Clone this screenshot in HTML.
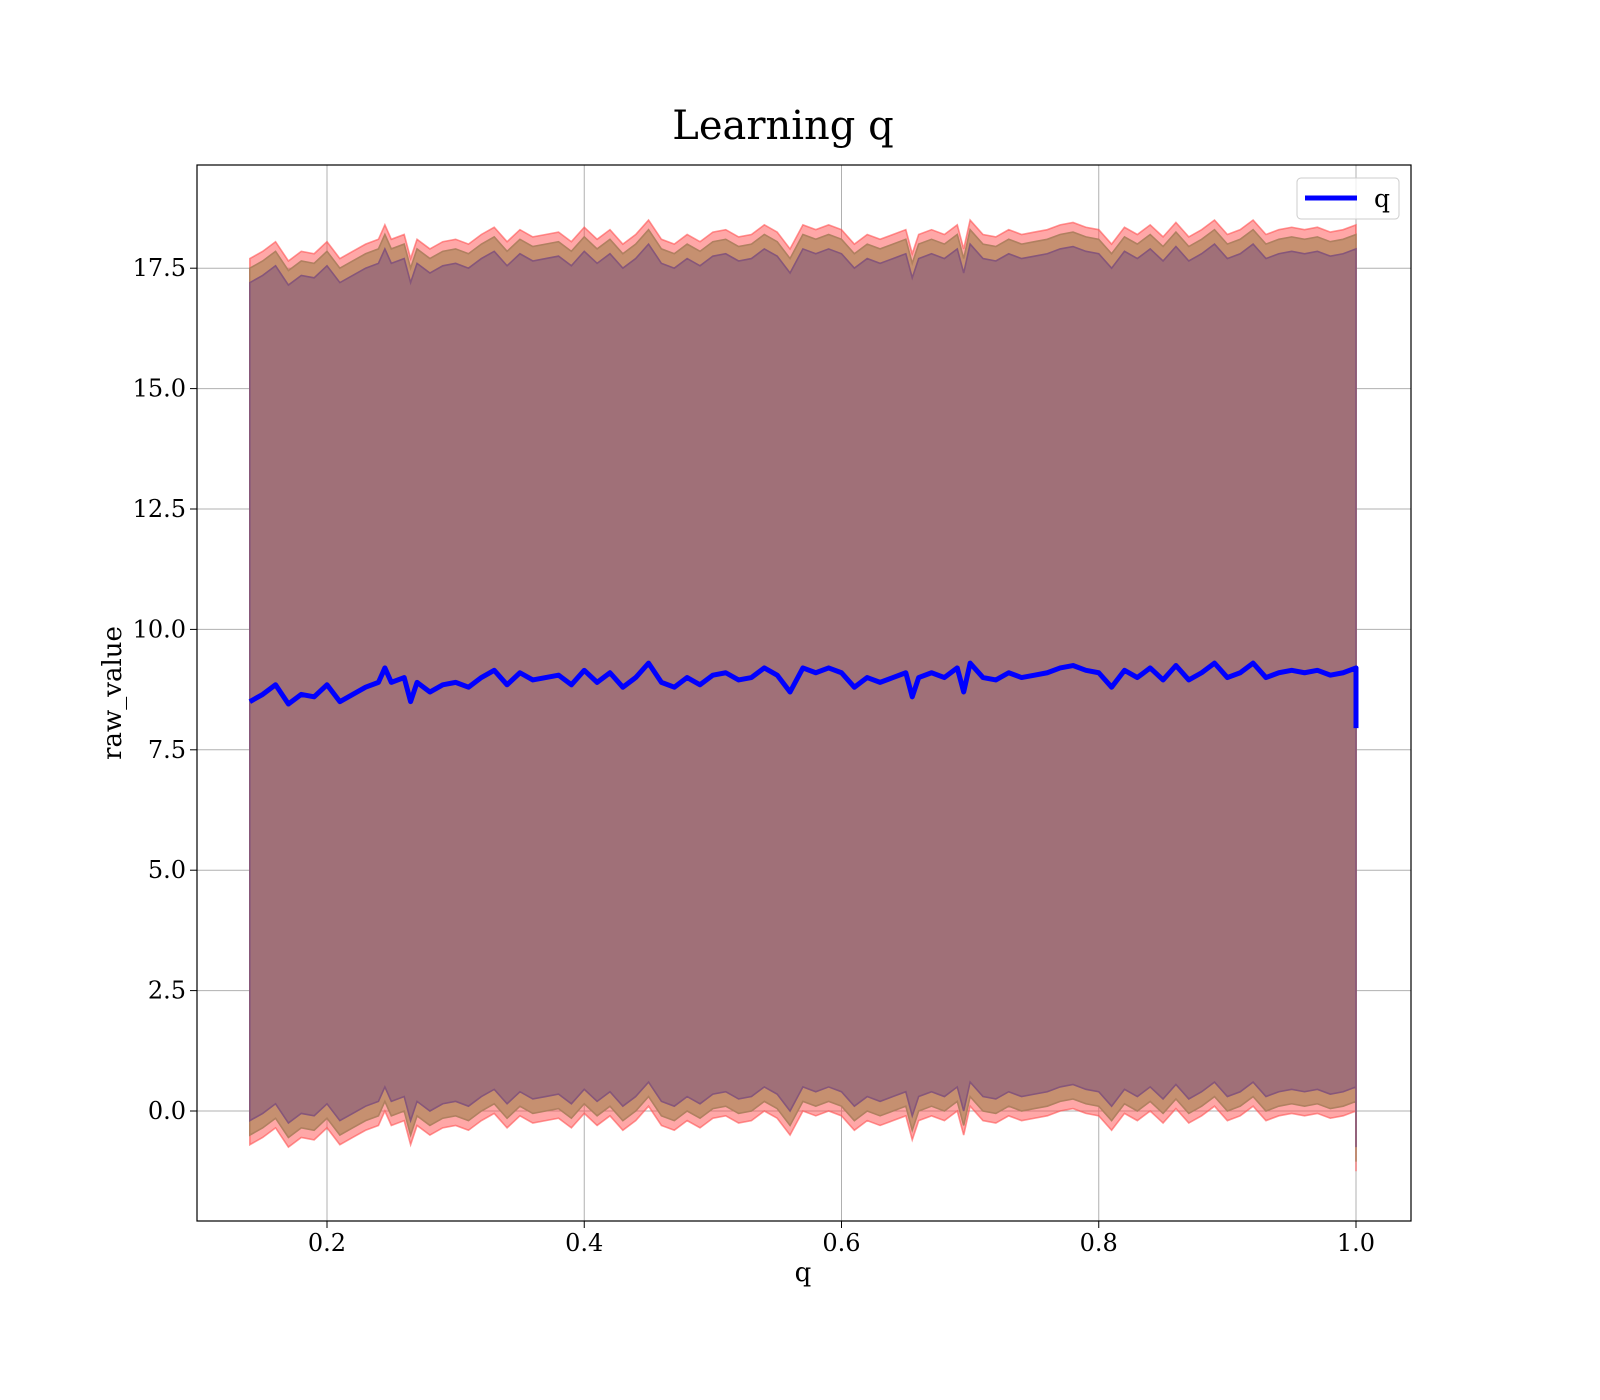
<!DOCTYPE html>
<html><head><meta charset="utf-8"><style>
body{margin:0;background:#fff}
svg{display:block}
text{font-family:"DejaVu Serif","Liberation Serif",serif;fill:#000}
</style></head><body>
<svg id="chart" width="1600" height="1400">
<text x="783" y="139" font-size="40" text-anchor="middle">Learning q</text>
<g id="grid"></g>
<g id="bands"></g>
<g id="lines"></g>
<rect x="197" y="165" width="1214" height="1056" fill="none" stroke="#000" stroke-width="1.2"/>
<g id="ticks"></g>
<text x="803" y="1281" font-size="26" text-anchor="middle">q</text>
<text transform="translate(121,693) rotate(-90)" font-size="26" text-anchor="middle">raw_value</text>
<g>
<rect x="1297" y="178" width="102" height="41" rx="4" fill="#fff" fill-opacity="0.8" stroke="#ccc"/>
<line x1="1305" y1="198" x2="1357" y2="198" stroke="#0000ff" stroke-width="5"/>
<text x="1374" y="207" font-size="25">q</text>
</g>
</svg>
<script>
const xs=[0.14,0.15,0.16,0.17,0.18,0.19,0.20,0.21,0.22,0.23,0.24,0.245,0.25,0.26,0.265,0.27,0.28,0.29,0.30,0.31,0.32,0.33,0.34,0.35,0.36,0.37,0.38,0.39,0.40,0.41,0.42,0.43,0.44,0.45,0.46,0.47,0.48,0.49,0.50,0.51,0.52,0.53,0.54,0.55,0.56,0.57,0.58,0.59,0.60,0.61,0.62,0.63,0.64,0.65,0.655,0.66,0.67,0.68,0.69,0.695,0.70,0.71,0.72,0.73,0.74,0.75,0.76,0.77,0.78,0.79,0.80,0.81,0.82,0.83,0.84,0.85,0.86,0.87,0.88,0.89,0.90,0.91,0.92,0.93,0.94,0.95,0.96,0.97,0.98,0.99,1.0,1.0];
const means=[8.5,8.65,8.85,8.45,8.65,8.6,8.85,8.5,8.65,8.8,8.9,9.2,8.9,9.0,8.5,8.9,8.7,8.85,8.9,8.8,9.0,9.15,8.85,9.1,8.95,9.0,9.05,8.85,9.15,8.9,9.1,8.8,9.0,9.3,8.9,8.8,9.0,8.85,9.05,9.1,8.95,9.0,9.2,9.05,8.7,9.2,9.1,9.2,9.1,8.8,9.0,8.9,9.0,9.1,8.6,9.0,9.1,9.0,9.2,8.7,9.3,9.0,8.95,9.1,9.0,9.05,9.1,9.2,9.25,9.15,9.1,8.8,9.15,9.0,9.2,8.95,9.25,8.95,9.1,9.3,9.0,9.1,9.3,9.0,9.1,9.15,9.1,9.15,9.05,9.1,9.2,7.95];
const xTicks=[0.2,0.4,0.6,0.8,1.0];
const xTickLabels=["0.2","0.4","0.6","0.8","1.0"];
const yTicks=[0,2.5,5,7.5,10,12.5,15,17.5];
const yTickLabels=["0.0","2.5","5.0","7.5","10.0","12.5","15.0","17.5"];
const bandOffsets=[9.2,9.0,8.7];
const NS="http://www.w3.org/2000/svg";
const X=v=>327+(v-0.2)*1286.25;
const Y=v=>1111-v*48.16;
function mk(tag,parent,attrs){const e=document.createElementNS(NS,tag);for(const k in attrs)e.setAttribute(k,attrs[k]);parent.appendChild(e);return e;}
const grid=document.getElementById('grid'),ticks=document.getElementById('ticks');
xTicks.forEach((t,i)=>{
 const g=mk('line',grid,{x1:X(t),x2:X(t),y1:165,y2:1221,stroke:'#b0b0b0','stroke-width':1});
 
 
 const tk=mk('line',ticks,{x1:X(t),x2:X(t),y1:1221,y2:1228,stroke:'#000'});
 
 
 const tx=mk('text',ticks,{x:X(t),y:1251,'font-size':24,'text-anchor':'middle'});
 tx.textContent=xTickLabels[i];
 
 
});
yTicks.forEach((t,i)=>{
 const g=mk('line',grid,{x1:197,x2:1411,y1:Y(t),y2:Y(t),stroke:'#b0b0b0','stroke-width':1});
 
 
 const tk=mk('line',ticks,{x1:190,x2:197,y1:Y(t),y2:Y(t),stroke:'#000'});
 
 
 const tx=mk('text',ticks,{x:186,y:Y(t)+8,'font-size':24,'text-anchor':'end'});
 tx.textContent=yTickLabels[i];
 
 
});
const bands=document.getElementById('bands');
const fills=['rgba(255,80,80,0.5)','#c69070','#a07078'];
const strokes=['rgba(255,80,80,0.6)','#b08060','#86567a'];
bandOffsets.forEach((o,i)=>{
 let up=xs.map((x,j)=>X(x)+','+Y(means[j]+o));
 let lo=xs.map((x,j)=>X(x)+','+Y(means[j]-o)).reverse();
 const p=mk('polygon',bands,{points:up.concat(lo).join(' '),fill:fills[i],stroke:strokes[i],'stroke-width':1.6});
 
 
});
const lines=document.getElementById('lines');
const pl=mk('polyline',lines,{points:xs.map((x,j)=>X(x)+','+Y(means[j])).join(' '),fill:'none',stroke:'#0000ff','stroke-width':5,'stroke-linejoin':'round'});


</script>
</body></html>
